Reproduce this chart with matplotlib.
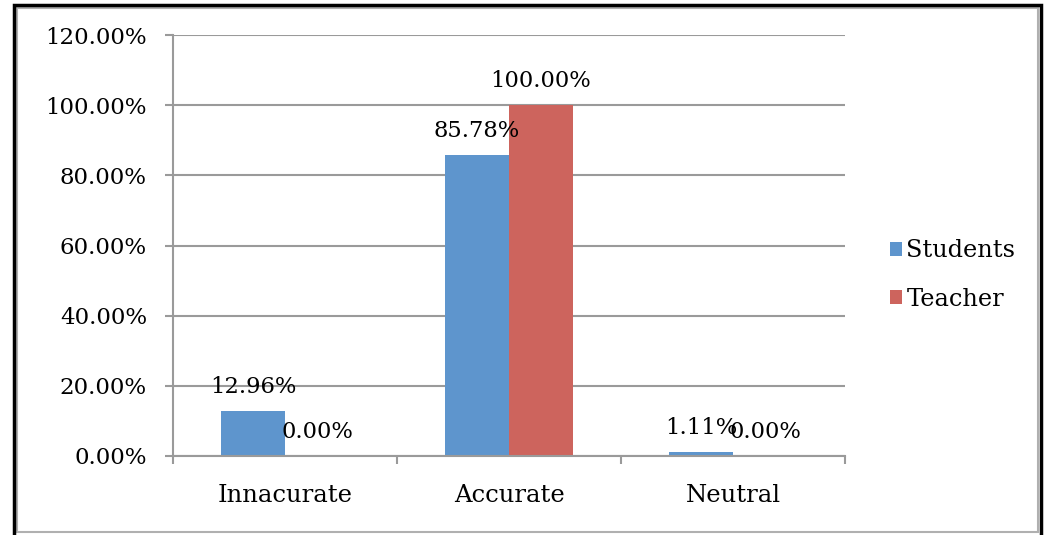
import numpy as np
import matplotlib.pyplot as plt
from matplotlib.patches import Rectangle

categories = ['Innacurate', 'Accurate', 'Neutral']
students = [12.96, 85.78, 1.11]
teacher = [0.00, 100.00, 0.00]
y_ticks = [0, 20, 40, 60, 80, 100, 120]

plt.rcParams['font.family'] = ['DejaVu Serif']

fig = plt.figure(figsize=(10.44, 5.35), dpi=100)
ax = fig.add_axes([173 / 1044, 1 - 456 / 535, 672 / 1044, 421 / 535])

x = np.arange(len(categories))
w = 1 / 3.5
blue = '#5E95CD'
red = '#CD645D'
b1 = ax.bar(x - w / 2, students, w, color=blue, label='Students')
b2 = ax.bar(x + w / 2, teacher, w, color=red, label='Teacher')

for bars, vals in ((b1, students), (b2, teacher)):
    for r, v in zip(bars, vals):
        ax.annotate('{:.2f}%'.format(v), (r.get_x() + r.get_width() / 2, v),
                    xytext=(0, 13), textcoords='offset pixels',
                    ha='center', va='bottom', fontsize=16.3)

ax.set_xlim(-0.5, 2.5)
ax.set_ylim(0, 120)
ax.set_yticks(y_ticks)
ax.set_yticklabels(['{:.2f}%'.format(t) for t in y_ticks], fontsize=16.5)
ax.yaxis.grid(True, color='#9a9a9a', linewidth=1.5)
ax.set_axisbelow(True)

ax.set_xticks(x)
ax.set_xticklabels(categories, fontsize=17.5)
ax.set_xticks([-0.5, 0.5, 1.5, 2.5], minor=True)
ax.tick_params(axis='x', which='major', length=0, pad=20)
ax.tick_params(axis='x', which='minor', length=5.8, width=1.5, color='#9a9a9a', direction='out')
ax.tick_params(axis='y', length=5.8, width=1.5, color='#9a9a9a', pad=13)

for s in ['top', 'right']:
    ax.spines[s].set_visible(False)
for s in ['left', 'bottom']:
    ax.spines[s].set_color('#9a9a9a')
    ax.spines[s].set_linewidth(1.5)

fig.legend(handles=[b1, b2], loc='center left', bbox_to_anchor=(868 / 1044, 1 - 275 / 535),
           frameon=False, fontsize=17.3, handlelength=0.5, handleheight=0.5,
           handletextpad=0.2, labelspacing=1.05)

# outer frame
fig.patches.append(Rectangle((17 / 1044, 3 / 535), 1021 / 1044, 1 - 11 / 535,
                             transform=fig.transFigure, fill=False,
                             edgecolor='#b0b0b0', linewidth=1.5))
fig.patches.append(Rectangle((14 / 1044, -0.05), 1027 / 1044, 1.05 - 5 / 535,
                             transform=fig.transFigure, fill=False,
                             edgecolor='black', linewidth=2.5))

fig.savefig('out.png', dpi=100)
